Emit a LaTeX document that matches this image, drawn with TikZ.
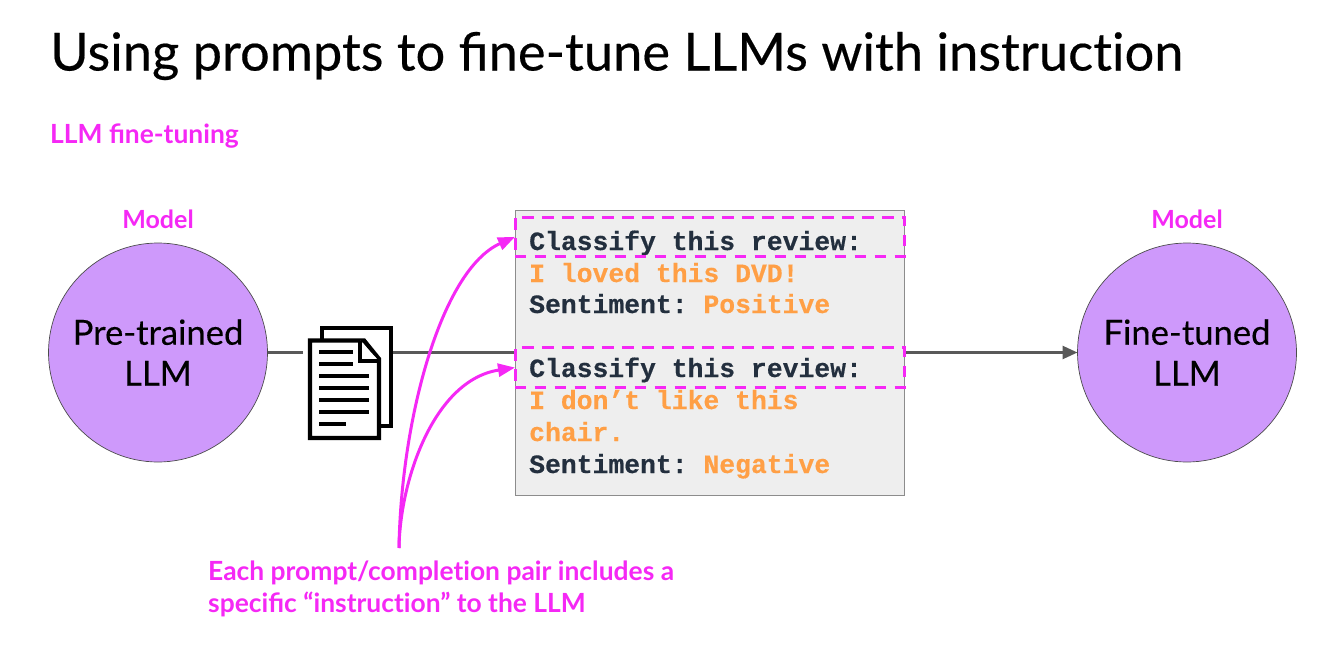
\documentclass[tikz,border=0pt]{standalone}
\usepackage{fontspec}
\setmainfont{Lato}
\newfontfamily\medfont[FakeBold=0.35]{Lato}
\newfontfamily\codefont[BoldFont={Liberation Mono Bold},BoldFeatures={FakeBold=0.4}]{Liberation Mono}
\usetikzlibrary{arrows.meta}
\definecolor{mag}{HTML}{F528F5}
\definecolor{lav}{HTML}{CE99FB}
\definecolor{codeink}{HTML}{232F3E}
\definecolor{org}{HTML}{FF9F45}
\definecolor{flow}{HTML}{595959}
\definecolor{panel}{HTML}{EEEEEE}
\newcommand{\nolig}{\kern0pt }
\tikzset{
  x=1pt,y=-1pt,
  llm/.style={circle,draw=black!70,line width=0.7pt,fill=lav,minimum size=219pt,inner sep=0pt,outer sep=0pt,align=center,font=\medfont\fontsize{34.6}{41}\selectfont},
  flowline/.style={flow,line width=2.6pt},
  flowarrow/.style={flowline,-{Triangle[length=15pt,width=13pt]}},
  call/.style={mag,line width=3pt,-{Triangle[length=17pt,width=13pt]}},
  dashbox/.style={draw=mag,line width=3pt,dash pattern=on 11.5pt off 8.5pt,dash phase=0.3pt,minimum width=389.3pt,inner sep=0pt,outer sep=0pt,anchor=north west},
  maglabel/.style={mag,font=\fontsize{26.4}{32}\selectfont\bfseries},
  codeline/.style={anchor=base west,inner sep=0pt,font=\codefont\fontsize{26.4}{30}\selectfont\bfseries\frenchspacing},
  dark/.style={codeline,text=codeink},
  warm/.style={codeline,text=org},
  pagestroke/.style={draw=black,line width=4.3pt,fill=white,line join=miter},
  pagetext/.style={black,line width=4.3pt},
}
\begin{document}
\begin{tikzpicture}
\useasboundingbox (0,0) rectangle (1344,669);
\node[anchor=base west,inner sep=0pt,font=\medfont\fontsize{52.4}{60}\selectfont] (title) at (50,70.5) {Using prompts to fine-tune LLMs with instruct\nolig ion};
\node[maglabel,anchor=base west,inner sep=0pt] (sub) at (50,143) {LLM fine-tuning};
\node[llm] (pre) at (158,352.5) {Pre-trained\\LLM};
\node[llm] (fine) at (1187,352.5) {Fine-tuned\\LLM};
\node[maglabel,anchor=base,font=\fontsize{25}{32}\selectfont\bfseries] (m1) at (158,228) {Model};
\node[maglabel,anchor=base,font=\fontsize{25}{32}\selectfont\bfseries] (m2) at (1187,228) {Model};
\node[draw=black!45,line width=1pt,fill=panel,minimum width=389.5pt,minimum height=285pt,inner sep=0pt,outer sep=0pt,anchor=north west] (panel) at (515,210) {};
\node[minimum width=90pt,minimum height=116pt,inner sep=0pt,outer sep=0pt] (doc) at (348,383) {};
\coordinate (docin) at (303,352.5);
\coordinate (docout) at (391,352.5);
\coordinate (panelin) at (515,352.5);
\coordinate (panelout) at (905,352.5);
\draw[flowline] (pre.east |- docin) -- (docin);
\draw[flowline] (docout) -- (panelin);
\draw[flowarrow] (panelout) -- (fine.west |- panelout);
% document icon
\draw[pagestroke] (322,328) rectangle (391,426);
\draw[pagestroke] (310,340.5) -- (364,340.5) -- (379,359) -- (379,438) -- (310,438) -- cycle;
\draw[pagestroke] (360,340.5) -- (360,361) -- (379,361);
\foreach \y/\e in {352.3/353,364/353,376/369,388/369,400/369,412/369,424/346}
  \draw[pagetext] (319,\y) -- (\e,\y);
% code
\node[dark] (a1) at (529,250) {Classify this review:};
\node[warm] (a2) at (529,282) {I loved this DVD!};
\node[dark] (a3) at (529,313) {Sentiment: \textcolor{org}{Positive}};
\node[dark] (b1) at (529,377) {Classify this review:};
\node[warm] (b2) at (529,409) {I don’t like this};
\node[warm] (b3) at (529,441) {chair.};
\node[dark] (b4) at (529,473) {Sentiment: \textcolor{org}{Negative}};
% dashed
\node[dashbox,minimum height=39.7pt] (d1) at (515,217) {};
\node[dashbox,minimum height=39.7pt] (d2) at (515,347.7) {};
% callout
\node[maglabel,anchor=north west,inner sep=0pt,align=left] (note) at (208,561) {Each prompt/complet\nolig ion pair includes a\\specific “instruct\nolig ion” to the LLM};
\coordinate (src) at (399,548);
\draw[call] (src) .. controls (401,420) and (441,270) .. (d1.west);
\draw[call] (src) .. controls (400,480) and (434,380) .. (d2.west);
\end{tikzpicture}
\end{document}
